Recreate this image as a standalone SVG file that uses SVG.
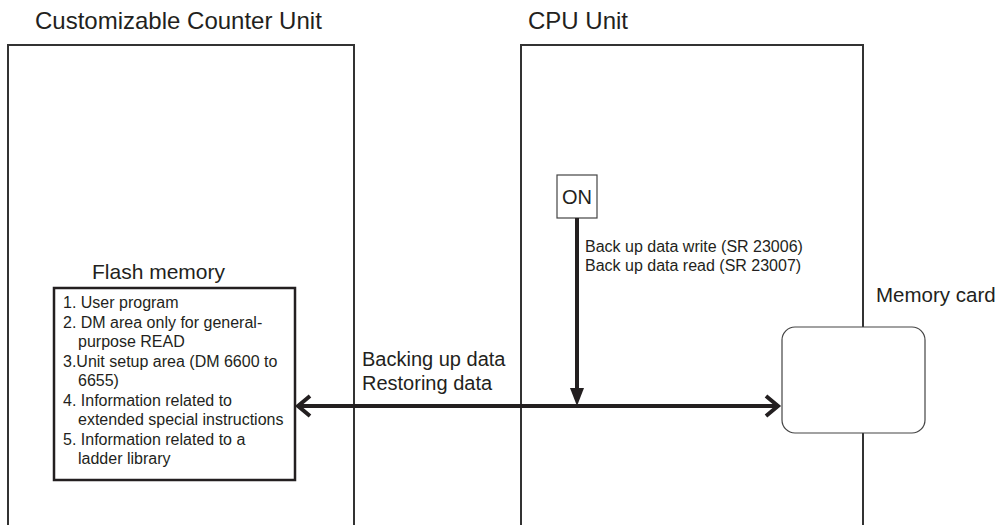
<svg xmlns="http://www.w3.org/2000/svg" width="1001" height="525" viewBox="0 0 1001 525">
<style>
text{font-family:"Liberation Sans",Arial,sans-serif;fill:#231f20}
.big{font-size:24px}
.mid{font-size:20px}
.sm{font-size:16px}
.unit{fill:#fff;stroke:#333;stroke-width:2}
.thin{fill:#fff;stroke:#444;stroke-width:1.2}
.conn{stroke:#231f20;stroke-width:4;fill:none}
.chev{stroke:#231f20;stroke-width:4;fill:none;stroke-linejoin:miter}
</style>
<rect width="1001" height="525" fill="#fff"/>
<g id="counter-unit">
<text class="big" x="35" y="29">Customizable Counter Unit</text>
<rect class="unit" x="8" y="45" width="346" height="500"/>
</g>
<g id="cpu-unit">
<text class="big" x="528" y="29">CPU Unit</text>
<rect class="unit" x="521" y="45" width="342" height="500"/>
</g>
<g id="flash-memory">
<text class="mid" x="92" y="279" style="font-size:21px">Flash memory</text>
<rect x="54" y="288" width="241" height="192" fill="#fff" stroke="#231f20" stroke-width="2.5"/>
<text class="sm" x="63" y="308">1. User program</text>
<text class="sm" x="63" y="327.5">2. DM area only for general-</text>
<text class="sm" x="78" y="347">purpose READ</text>
<text class="sm" x="63" y="366.5">3.Unit setup area (DM 6600 to</text>
<text class="sm" x="78" y="386">6655)</text>
<text class="sm" x="63" y="405.5">4. Information related to</text>
<text class="sm" x="78" y="425">extended special instructions</text>
<text class="sm" x="63" y="444.5">5. Information related to a</text>
<text class="sm" x="78" y="464">ladder library</text>
</g>
<g id="on-switch">
<rect class="thin" x="557" y="175" width="40" height="43"/>
<text x="577" y="204" text-anchor="middle" style="font-size:20px">ON</text>
</g>
<g id="memory-card">
<text class="mid" x="876" y="302" style="font-size:20.5px">Memory card</text>
<rect class="thin" x="782" y="327" width="143" height="106" rx="13"/>
</g>
<g id="connectors">
<line class="conn" x1="577" y1="218" x2="577" y2="390"/>
<polygon points="570,388 584,388 577,406" fill="#231f20"/>
<line class="conn" x1="298" y1="406" x2="778" y2="406"/>
<polyline class="chev" points="310,396 298,406 310,416"/>
<polyline class="chev" points="766,396 778,406 766,416"/>
</g>
<g id="labels">
<text class="sm" x="585" y="252">Back up data write (SR 23006)</text>
<text class="sm" x="585" y="271">Back up data read (SR 23007)</text>
<text class="mid" x="362" y="366">Backing up data</text>
<text class="mid" x="362" y="390">Restoring data</text>
</g>
</svg>
